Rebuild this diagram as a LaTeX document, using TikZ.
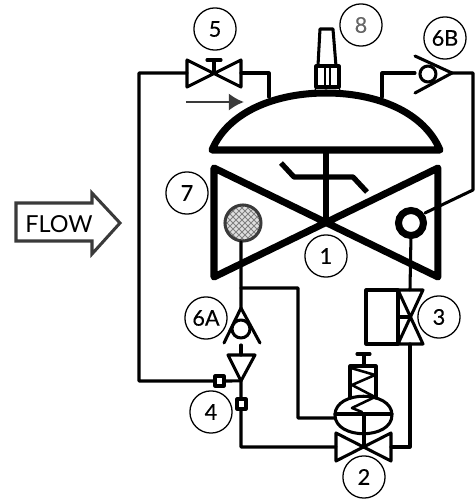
\documentclass[tikz,border=0pt]{standalone}
\usepackage{fontspec}
\setmainfont{Lato}
\newfontfamily\tagfont[FakeBold=0.35]{Lato}
\usepackage{xcolor}
\usetikzlibrary{arrows.meta}
\definecolor{arrowgray}{HTML}{3A3A3A}
\tikzset{
  pipe/.style={line width=2.6pt, black, line join=round, line cap=round},
  body/.style={line width=6pt, black, line join=round, line cap=round},
  tag/.style={circle, draw=black, line width=1.1pt, fill=white, minimum size=36pt, inner sep=0pt, font=\tagfont\fontsize{18.5}{18.5}\selectfont}
}
\begin{document}
\begin{tikzpicture}
  \useasboundingbox (0,0) rectangle (14.22,-14.97);
  \begin{scope}[xscale=0.03, yscale=-0.03]
    % main valve and dome
    \draw [body] (214,168) -- (438,277) -- (438,168) -- (214,277) -- cycle;
    \draw [body] (212,150) .. controls (228,112) and (275,93) .. (326,93) .. controls (377,93) and (424,112) .. (440,150) -- cycle;
    \draw [body, line width=5pt] (326,150) -- (326,223);
    \draw [pipe, line width=4.5pt, line cap=butt] (281,163) -- (294,177) -- (353,177) -- (367,192);
    % strainer mesh
    \begin{scope}
      \clip (243,223) circle (18);
      \fill [gray!25] (225,205) rectangle (261,241);
      \foreach \i in {-40,-34,...,40} {
        \draw [gray, line width=0.7pt] (243+\i-20,203) -- (243+\i+20,243);
        \draw [gray, line width=0.7pt] (243+\i+20,203) -- (243+\i-20,243);
      }
    \end{scope}
    \draw [arrowgray, line width=2.6pt] (243,223) circle (18);
    \draw [line width=6pt] (411,223) circle (12.5);
    % outer pipes
    \coordinate (J4) at (241,381);
    \coordinate (J6) at (241,288);
    \draw [pipe] (187,73) -- (139,73) -- (139,381) -- (J4);
    \draw [pipe] (241,242) -- (J6) -- (241,308);
    \draw [pipe] (241,345) -- (241,355);
    \draw [pipe] (J4) -- (241,447) -- (336,447);
    \draw [pipe] (J6) -- (298,288) -- (298,418) -- (335,418);
    \draw [pipe] (391,447) -- (410,447) -- (410,344);
    \draw [pipe] (411,236) -- (410,290);
    \draw [pipe] (241,73) -- (269,73) -- (269,97);
    \draw [pipe] (415,73) -- (382,73) -- (382,97);
    \draw [pipe] (452,73) -- (473,73) -- (473,190) -- (425,213);
    % valve 5
    \draw [pipe] (187,60) -- (241,87) -- (241,60) -- (187,87) -- cycle;
    \draw [pipe] (214,73) -- (214,60) (207,60) -- (221,60);
    % flow direction in the bypass
    \draw [-{Latex[length=13pt,width=15pt]}, line width=2.4pt, arrowgray] (186,102) -- (244,102);
    % transmitter 8
    \draw [pipe] (318,66) -- (320,29) -- (333,29) -- (336,66);
    \draw [pipe] (316,66) rectangle (339,87);
    \draw [pipe, line width=1.6pt] (325,66) -- (325,87) (330,66) -- (330,87);
    \draw [pipe, line width=1pt] (316,87) -- (314,94) (339,87) -- (341,94);
    % check valve 6B
    \draw [pipe] (415,56) -- (452,73) -- (415,93);
    \draw [pipe, fill=white] (428,74) circle (8);
    % check valve 6A
    \draw [pipe] (224,343) -- (241,308) -- (260,343);
    \draw [pipe, fill=white] (241,329) circle (9);
    % strainer 4
    \draw [pipe] (228,355) -- (255,355) -- (J4) -- cycle;
    \draw [pipe, fill=white] (215,376) rectangle (224,386);
    \draw [pipe, fill=white] (237,399) rectangle (246,409);
    % pilot valve 3
    \draw [pipe] (398,290) -- (423,344) -- (398,344) -- (423,290) -- cycle;
    \draw [pipe] (398,290) -- (366,290) -- (366,344) -- (398,344) -- cycle;
    \draw [pipe] (398,317) -- (410,317);
    % control valve 2
    \draw [pipe] (336,433) -- (391,461) -- (391,433) -- (336,461) -- cycle;
    \draw [pipe] (335,415) .. controls (335,390) and (392,390) .. (392,415) .. controls (392,440) and (335,440) .. cycle;
    \draw [pipe] (335,414) -- (392,414);
    \draw [pipe] (364,414) -- (364,447);
    \draw [pipe] (350,398) -- (350,366) -- (376,366) -- (376,398);
    \draw [pipe] (364,366) -- (364,354) (357,354) -- (370,354);
    \draw [pipe, line width=2.2pt] (351,368) -- (375,375) -- (352,385) -- (375,397) -- (352,408) -- (362,412);
    % flow arrow
    \draw [line width=2.6pt, arrowgray, line join=miter] (16,203) -- (92,203) -- (92,193) -- (120,223) -- (92,254) -- (92,241) -- (16,241) -- cycle;
    \node (flow) at (59,224) {\fontsize{20}{20}\selectfont FLOW};
    % numbered tags
    \node [tag] (T1) at (326,256) {1};
    \node [tag] (T2) at (364,477) {2};
    \node [tag] (T3) at (439,317) {3};
    \node [tag] (T4) at (211,412) {4};
    \node [tag] (T5) at (215,29) {5};
    \node [tag] (T6A) at (206,318) {6A};
    \node [tag] (T6B) at (445,38) {6B};
    \node [tag] (T7) at (187,193) {7};
    \node [tag, text=black!60] (T8) at (361,25) {8};
  \end{scope}
\end{tikzpicture}
\end{document}
